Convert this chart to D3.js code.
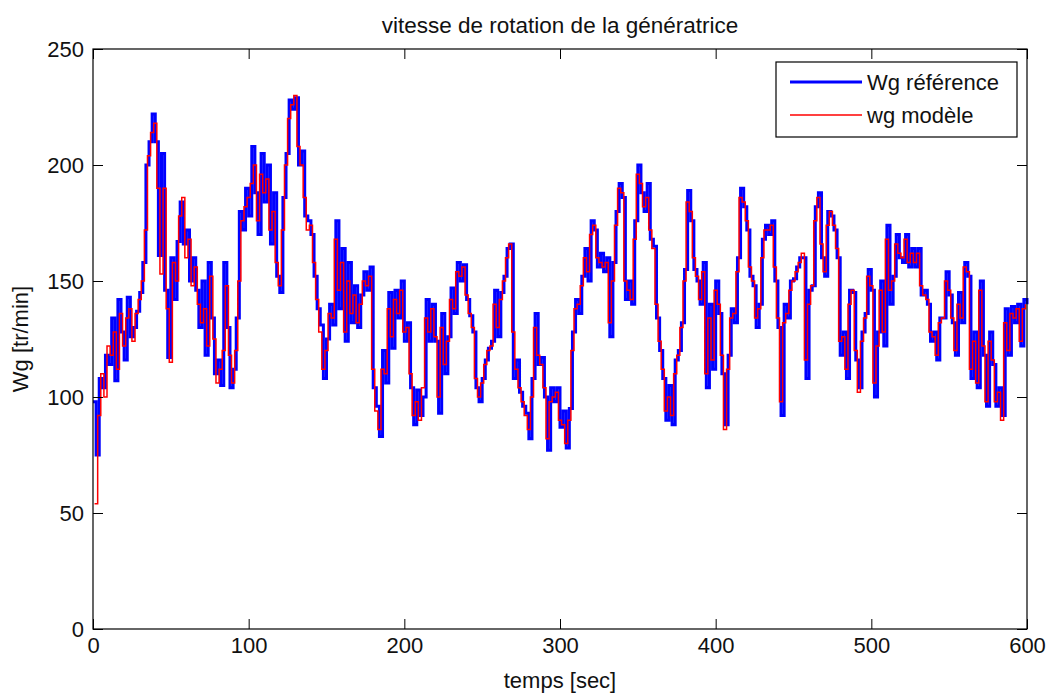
<!DOCTYPE html>
<html>
<head>
<meta charset="utf-8">
<script src="https://cdn.jsdelivr.net/npm/d3@7"></script>
<style>
  body { margin: 0; background: #fff; }
  text { font-family: "Liberation Sans", Arial, Helvetica, sans-serif; fill: #111; }
</style>
</head>
<body>
<div id="chart"></div>
<script>
// Wg reference (blue), sampled every 2 s from 0 to 600 s
var wgRef = [
  98, 75, 108, 104, 118, 114, 134, 107, 142, 128,
  116, 143, 126, 130, 137, 145, 158, 200, 210, 222,
  210, 161, 205, 146, 117, 160, 142, 167, 184, 166,
  172, 150, 160, 146, 130, 150, 118, 158, 134, 110,
  116, 105, 158, 130, 104, 112, 134, 180, 172, 190,
  178, 208,
  188, 170, 205, 184, 200, 166, 188, 152, 145, 186,
  205, 228, 224, 229, 200, 206, 178, 176, 170, 152,
  138, 131, 108, 125, 140, 131, 176, 138, 164, 124,
  158, 132, 148, 130, 144, 154, 146, 156, 104, 96,
  83, 120, 106, 145, 121, 146, 134, 150, 124, 132,
  104, 88, 103, 92, 100, 142, 124, 140, 124, 93,
  136, 110, 126, 147, 136, 158, 150, 157, 142, 135,
  128, 104, 98, 108, 116, 121, 124, 146, 126, 145,
  152, 164, 166, 108, 116, 102, 96, 93, 82, 108,
  136, 114, 117, 100, 77, 104, 98, 104, 87, 94,
  78, 95, 128, 142, 136, 152, 164, 150, 176, 172,
  156, 162, 154, 160, 126, 158, 180, 192, 186, 142,
  150, 140, 176, 200, 188, 180, 192, 168, 165, 134,
  120, 108, 90, 105, 88, 116, 120, 132, 155, 189,
  176, 155, 150, 140, 158, 104, 140, 112, 150, 136,
  110, 88, 118, 138, 132, 160, 190, 182, 172, 152,
  148, 130, 140, 168, 174, 170, 176, 150, 130, 92,
  140, 134, 150, 151, 156, 160, 160, 108, 146, 148,
  182, 188, 160, 152, 180, 178, 172, 160, 118, 128,
  108, 146, 145, 116, 104, 128, 136, 155, 146,
  100, 128, 150, 122, 174, 140, 152, 170, 160, 158,
  170, 156, 164, 156, 164, 144, 146, 140, 124, 128,
  116, 134, 134, 154, 144, 132, 118, 145, 132, 158,
  152, 108, 128, 104, 150, 118, 96, 128, 114, 96,
  104, 92, 138, 118, 139, 132, 140, 122, 142, 140
];

// wg model (red), sampled every 2 s from 1 to 599 s
var wgMod = [
  54, 92, 110, 100, 122, 118, 128, 112, 136, 122,
  134, 138, 124, 136, 142, 150, 172, 204, 214, 218,
  190, 153, 190, 138, 115, 158, 150, 178, 186, 160,
  168, 148, 156, 140, 132, 138, 122, 152, 125, 106,
  112, 120, 148, 118, 106, 120, 150, 176, 182, 186,
  192,
  200, 176, 196, 188, 194, 172, 180, 158, 148, 172,
  200, 220, 226, 230, 208, 200, 186, 172, 174, 158,
  142, 128, 112, 120, 136, 134, 168, 146, 158, 128,
  150, 136, 144, 132, 140, 150, 148, 152, 112, 94,
  86, 112, 110, 138, 126, 142, 136, 146, 128, 130,
  110, 92, 98, 90, 104, 134, 128, 138, 126, 100,
  130, 114, 124, 142, 138, 154, 152, 156, 144, 136,
  130, 108, 100, 106, 114, 120, 122, 140, 130, 142,
  150, 160, 166, 128, 112, 104, 98, 92, 86, 100,
  130, 118, 114, 104, 82, 98, 100, 102, 90, 88,
  80, 90, 120, 138, 140, 148, 160, 154, 170, 174,
  160, 158, 156, 158, 132, 150, 174, 190, 188, 150,
  146, 142, 168, 196, 192, 182, 186, 172, 164, 140,
  124, 112, 94, 100, 92, 110, 118, 130, 150, 184,
  180, 160, 152, 142, 154, 110, 134, 116, 146, 140,
  118, 86, 112, 134, 136, 154, 186, 184, 176, 156,
  150, 134, 138, 160, 172, 172, 174, 156, 134, 98,
  132, 136, 146, 150, 154, 158, 162, 116, 140, 148,
  176, 186, 166, 154, 174, 180, 174, 164, 124, 126,
  112, 140, 146, 120, 102, 124, 134, 152, 148, 106,
  122, 146, 128, 168, 146, 150, 166, 162, 160, 168,
  158, 162, 158, 162, 148, 144, 142, 128, 126, 118,
  132, 134, 150, 146, 134, 120, 140, 134, 156, 154,
  112, 124, 106, 146, 122, 98, 124, 116, 98, 102,
  90, 132, 120, 136, 134, 138, 124, 138, 140
];

var tRef = d3.range(0, 601, 2);
var tMod = d3.range(1, 600, 2);

var xTicks = [0, 100, 200, 300, 400, 500, 600];
var yTicks = [0, 50, 100, 150, 200, 250];
var seriesNames = ["Wg référence", "wg modèle"];

var width = 1050, height = 696;
var margin = {top: 49, right: 23, bottom: 67, left: 93};
var fontSize = 22;

var x = d3.scaleLinear()
    .domain([0, 600])
    .range([margin.left, width - margin.right]);

var y = d3.scaleLinear()
    .domain([0, 250])
    .range([height - margin.bottom, margin.top]);

var svg = d3.select("#chart").append("svg")
    .attr("width", width)
    .attr("height", height);

svg.append("rect")
    .attr("width", width)
    .attr("height", height)
    .attr("fill", "#fff");

var refData = tRef.map(function(t, i) { return {t: t, v: wgRef[i]}; });
var modData = tMod.map(function(t, i) { return {t: t, v: wgMod[i]}; });

var line = d3.line()
    .curve(d3.curveStepAfter)
    .x(function(d) { return x(d.t); })
    .y(function(d) { return y(d.v); });

svg.append("path")
    .datum(refData)
    .attr("fill", "none")
    .attr("stroke", "#0000ff")
    .attr("stroke-width", 3)
    .attr("d", line);

svg.append("path")
    .datum(modData)
    .attr("fill", "none")
    .attr("stroke", "#ff0000")
    .attr("stroke-width", 1.5)
    .attr("d", line);

//
// Axes (MATLAB style: ticks inside, box all around)
//
var gx = svg.append("g")
    .attr("transform", "translate(0," + y(0) + ")")
    .call(d3.axisBottom(x).tickValues(xTicks).tickSizeInner(-10).tickSizeOuter(0).tickPadding(8));
var gxTop = svg.append("g")
    .attr("transform", "translate(0," + y(250) + ")")
    .call(d3.axisTop(x).tickValues(xTicks).tickSizeInner(-10).tickSizeOuter(0).tickFormat(""));
var gy = svg.append("g")
    .attr("transform", "translate(" + x(0) + ",0)")
    .call(d3.axisLeft(y).tickValues(yTicks).tickSizeInner(-10).tickSizeOuter(0).tickPadding(9));
var gyRight = svg.append("g")
    .attr("transform", "translate(" + x(600) + ",0)")
    .call(d3.axisRight(y).tickValues(yTicks).tickSizeInner(-10).tickSizeOuter(0).tickFormat(""));

[gx, gxTop, gy, gyRight].forEach(function(g) {
    g.select(".domain").remove();
    g.selectAll("line").attr("stroke", "#000").attr("stroke-width", 1);
    g.selectAll("text")
        .style("font-size", fontSize + "px")
        .style("font-family", "'Liberation Sans', Arial, sans-serif")
        .attr("fill", "#111");
});

svg.append("rect")
    .attr("x", x(0))
    .attr("y", y(250))
    .attr("width", x(600) - x(0))
    .attr("height", y(0) - y(250))
    .attr("fill", "none")
    .attr("stroke", "#000")
    .attr("stroke-width", 1.2);

// Titles
svg.append("text")
    .attr("x", (x(0) + x(600)) / 2)
    .attr("y", 33)
    .attr("text-anchor", "middle")
    .style("font-size", "22.5px")
    .text("vitesse de rotation de la génératrice");

svg.append("text")
    .attr("x", (x(0) + x(600)) / 2)
    .attr("y", 688)
    .attr("text-anchor", "middle")
    .style("font-size", fontSize + "px")
    .text("temps [sec]");

svg.append("text")
    .attr("transform", "translate(28," + ((y(0) + y(250)) / 2) + ") rotate(-90)")
    .attr("text-anchor", "middle")
    .style("font-size", fontSize + "px")
    .text("Wg [tr/min]");

// Legend
var legend = svg.append("g");
legend.append("rect")
    .attr("x", 776)
    .attr("y", 62)
    .attr("width", 241)
    .attr("height", 75)
    .attr("fill", "#fff")
    .attr("stroke", "#000")
    .attr("stroke-width", 1.2);

legend.append("line")
    .attr("x1", 790).attr("x2", 862)
    .attr("y1", 82).attr("y2", 82)
    .attr("stroke", "#0000ff")
    .attr("stroke-width", 3);
legend.append("text")
    .attr("x", 867)
    .attr("y", 90)
    .style("font-size", fontSize + "px")
    .text(seriesNames[0]);

legend.append("line")
    .attr("x1", 790).attr("x2", 862)
    .attr("y1", 115).attr("y2", 115)
    .attr("stroke", "#ff0000")
    .attr("stroke-width", 1.5);
legend.append("text")
    .attr("x", 867)
    .attr("y", 123)
    .style("font-size", fontSize + "px")
    .text(seriesNames[1]);
</script>
</body>
</html>
